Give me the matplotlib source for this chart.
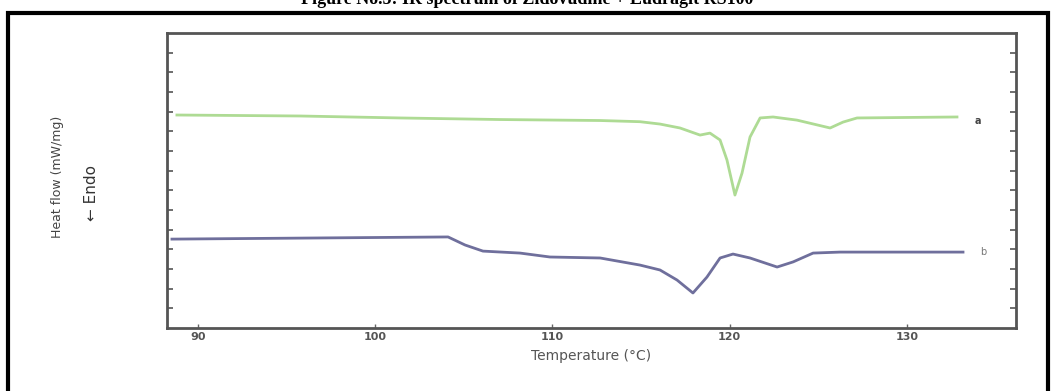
import matplotlib

matplotlib.use("Agg")
import matplotlib.pyplot as plt
from matplotlib.patches import Rectangle

# --- DSC traces (temperature in C, heat flow in arbitrary units)
temp_a = [88.81, 95.76, 101.40, 107.04, 112.69, 114.94, 116.07, 117.20, 118.33, 118.89,
          119.46, 119.85, 120.30, 120.70, 121.15, 121.72, 122.45, 123.80, 125.67, 126.40,
          127.19, 132.83]
flow_a = [10.83, 10.78, 10.68, 10.60, 10.55, 10.49, 10.37, 10.17, 9.81, 9.91,
          9.56, 8.54, 6.76, 7.88, 9.71, 10.68, 10.73, 10.57, 10.17, 10.47,
          10.68, 10.73]

temp_b = [88.53, 104.11, 105.07, 106.08, 108.17, 109.86, 112.69, 114.94, 116.07, 117.03,
          117.93, 118.72, 119.46, 120.19, 121.15, 122.68, 123.58, 124.71, 126.23, 133.17]
flow_b = [4.52, 4.63, 4.22, 3.91, 3.81, 3.61, 3.56, 3.20, 2.95, 2.44,
          1.78, 2.59, 3.56, 3.76, 3.56, 3.10, 3.36, 3.81, 3.86, 3.86]

curve_labels = ["a", "b"]
x_ticks = [90, 100, 110, 120, 130]

title = "Figure No.5: IR spectrum of Zidovudine + Eudragit RS100"

W, H = 1054, 391
fig = plt.figure(figsize=(W / 100, H / 100), dpi=100)
fig.patch.set_facecolor("white")

# outer frame of the scanned page (the caption above it is cut by the page edge)
fig.patches.append(Rectangle((8 / W, -0.2), 1040 / W, 1.2 - 13 / H, transform=fig.transFigure,
                             fill=False, edgecolor="black", linewidth=3))
fig.text(0.5, 1 - 4 / H, title, ha="center", va="baseline", fontsize=13,
         fontweight="bold", family="Liberation Serif")

ax = fig.add_axes([167 / W, 1 - 328 / H, (1016 - 167) / W, (328 - 33) / H])
ax.plot(temp_a, flow_a, color="#aedb94", linewidth=2.0, solid_joinstyle="round")
ax.plot(temp_b, flow_b, color="#6f6f9c", linewidth=2.0, solid_joinstyle="round")

ax.text(134.0, flow_a[-1] - 0.2, curve_labels[0], fontsize=7, color="#444444",
        ha="center", va="center", fontweight="bold")
ax.text(134.3, flow_b[-1], curve_labels[1], fontsize=7, color="#777777",
        ha="center", va="center")

ax.set_xlim(88.25, 136.16)
ax.set_ylim(0, 15)
ax.set_xticks(x_ticks)
ax.set_xticklabels([str(t) for t in x_ticks], fontsize=8, color="#555555", fontweight="bold")
ax.set_yticks(range(1, 15))
ax.set_yticklabels([])
ax.tick_params(axis="x", direction="in", length=3, width=1, color="#666666", pad=3)
ax.tick_params(axis="y", direction="in", length=4, width=1.2, color="#555555",
               left=True, right=True)
for sp in ax.spines.values():
    sp.set_color("#555555")
    sp.set_linewidth(2)

ax.set_xlabel("Temperature (°C)", fontsize=10, color="#555555", labelpad=5)

fig.text(57 / W, 1 - 177 / H, "Heat flow (mW/mg)", rotation=90, ha="center", va="center",
         fontsize=9, color="#444444")
fig.text(92 / W, 1 - 193 / H, "← Endo", rotation=90, ha="center", va="center",
         fontsize=11, color="#333333")

fig.savefig("out.png", dpi=100)
plt.close(fig)
